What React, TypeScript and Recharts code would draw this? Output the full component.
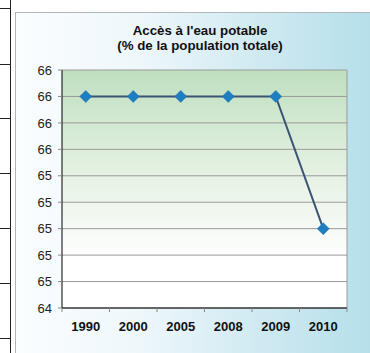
import React from "react";
import { LineChart, Line, XAxis, YAxis, CartesianGrid } from "recharts";

const years = ["1990", "2000", "2005", "2008", "2009", "2010"];
const access = [66.0, 66.0, 66.0, 66.0, 66.0, 65.0];
const yTicks = [64.4, 64.6, 64.8, 65.0, 65.2, 65.4, 65.6, 65.8, 66.0, 66.2];
const titleLines = ["Accès à l'eau potable", "(% de la population totale)"];

const data = years.map((y, i) => ({ year: y, value: access[i] }));

const FONT = "'Liberation Sans', Arial, Helvetica, sans-serif";
const HALF = 285 / 6 / 2;

const Diamond = (props: any) => {
  const { cx, cy } = props;
  if (cx == null || cy == null) return null;
  const r = 6;
  return (
    <path
      d={`M${cx},${cy - r} L${cx + r},${cy} L${cx},${cy + r} L${cx - r},${cy} Z`}
      fill="#1f7dc1"
      stroke="#1a6fae"
      strokeWidth={0.5}
    />
  );
};

const XTick = (props: any) => {
  const { x, y, payload, index } = props;
  return (
    <g>
      <line x1={x - HALF} y1={y - 8} x2={x - HALF} y2={y - 4} stroke="#888" />
      {index === years.length - 1 && (
        <line x1={x + HALF} y1={y - 8} x2={x + HALF} y2={y - 4} stroke="#888" />
      )}
      <text x={x} y={y + 15} textAnchor="middle" fontSize={13} fontWeight="bold" fill="#111" fontFamily={FONT}>
        {payload.value}
      </text>
    </g>
  );
};

const leftHLines = [8, 64, 118, 173, 228, 283, 338];

export default function App() {
  return (
    <div style={{ position: "absolute", left: 0, top: 0, width: 370, height: 353, background: "#fff", overflow: "hidden" }}>
      <div style={{ position: "absolute", left: 10, top: 0, width: 1, height: 353, background: "#222" }} />
      {leftHLines.map((y) => (
        <div key={y} style={{ position: "absolute", left: 0, top: y, width: 10, height: 1, background: "#222" }} />
      ))}
      <div
        style={{
          position: "absolute",
          left: 15,
          top: 12,
          width: 355,
          height: 341,
          boxSizing: "border-box",
          borderTop: "1px solid #b0b8bc",
          borderLeft: "1px solid #b0b8bc",
          background: "linear-gradient(90deg, #fbfdfe 0%, #eef7fb 35%, #cfe9f1 70%, #b6dfea 100%)",
        }}
      />
      <div style={{ position: "absolute", left: 15, top: 12 }}>
        <LineChart width={355} height={341} data={data} margin={{ top: 58, right: 23, bottom: 15, left: 0 }}>
          <defs>
            <linearGradient id="plotGrad" x1="0" y1="0" x2="0" y2="1">
              <stop offset="0%" stopColor="#bfdfc0" />
              <stop offset="45%" stopColor="#e6f2e4" />
              <stop offset="80%" stopColor="#ffffff" />
              <stop offset="100%" stopColor="#ffffff" />
            </linearGradient>
          </defs>
          <text x={185} y={23} textAnchor="middle" fontSize={13.3} fontWeight="bold" fill="#111" fontFamily={FONT}>
            {titleLines[0]}
          </text>
          <text x={185} y={38} textAnchor="middle" fontSize={13.3} fontWeight="bold" fill="#111" fontFamily={FONT}>
            {titleLines[1]}
          </text>
          <CartesianGrid
            fill="url(#plotGrad)"
            stroke="#9a9a9a"
            strokeWidth={1}
            vertical={true}
            verticalCoordinatesGenerator={(p: any) => [p.offset.left + p.offset.width]}
          />
          <XAxis
            dataKey="year"
            height={30}
            padding={{ left: HALF, right: HALF }}
            axisLine={{ stroke: "#000" }}
            tickLine={false}
            tick={<XTick />}
            interval={0}
          />
          <YAxis
            width={47}
            domain={[64.4, 66.2]}
            ticks={yTicks}
            interval={0}
            tickFormatter={(v: number) => String(Math.round(v))}
            axisLine={{ stroke: "#000" }}
            tickLine={{ stroke: "#888" }}
            tickSize={4}
            tickMargin={6}
            tick={{ fontSize: 13, fill: "#222", fontFamily: FONT }}
          />
          <Line
            dataKey="value"
            stroke="#3b5475"
            strokeWidth={2}
            dot={<Diamond />}
            activeDot={false}
            isAnimationActive={false}
          />
        </LineChart>
      </div>
    </div>
  );
}
